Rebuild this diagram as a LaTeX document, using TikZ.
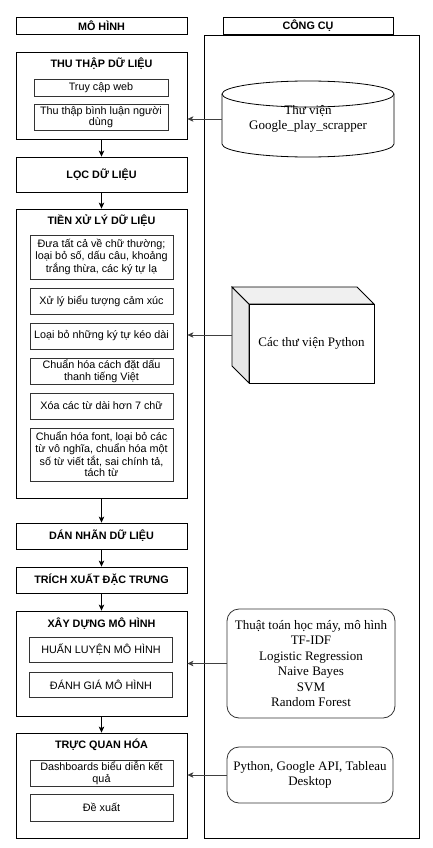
\documentclass[tikz,border=0pt]{standalone}
\usepackage{fontspec}
\setmainfont{Liberation Serif}
\setsansfont{Liberation Sans}
\usetikzlibrary{arrows.meta,positioning,calc}
\definecolor{lineGrey}{HTML}{333333}
\definecolor{sideGrey}{HTML}{E6E6E6}
\definecolor{topGrey}{HTML}{F0F0F0}

\begin{document}
\begin{tikzpicture}[
  x=1pt,y=-1pt,
  line width=0.8pt,
  sans/.style={font=\sffamily\fontsize{10.8}{11.6}\selectfont},
  header/.style={draw,sans,font=\sffamily\bfseries\fontsize{10.8}{11.6}\selectfont,
    minimum height=17pt,inner sep=0pt},
  group/.style={draw,fill=white,minimum width=171pt,inner sep=0pt},
  title/.style={sans,font=\sffamily\bfseries\fontsize{10.8}{11.6}\selectfont,inner sep=0pt},
  stepbox/.style={draw,fill=white,minimum width=171pt,inner sep=0pt,
    font=\sffamily\bfseries\fontsize{10.8}{11.6}\selectfont},
  subbox/.style={draw=lineGrey,fill=white,sans,align=center,minimum width=143pt,inner sep=0pt},
  tool/.style={draw=lineGrey,fill=white,rounded corners=12pt,align=center,inner sep=0pt,
    font=\rmfamily\fontsize{13}{15.4}\selectfont},
  flow/.style={-{Stealth[length=6pt,width=5.5pt,inset=1.5pt]},draw=black},
  feed/.style={-{Stealth[length=6pt,width=5.5pt,inset=1.5pt]},draw=black!75}
]
  \useasboundingbox (0,0) rectangle (433,848);

  % headers and tool frame
  \node[header,minimum width=171pt] (mohinh) at (101.5,26) {MÔ HÌNH};
  \draw (204,35) rectangle (419,838);
  \node[header,minimum width=170pt,fill=white] (congcu) at (308,26) {CÔNG CỤ};

  % left column: model steps
  \node[group,minimum height=87pt] (thuthap) at (101.5,95.5) {};
  \node[title] (thuthapT) at (101.5,64) {THU THẬP DỮ LIỆU};
  \node[subbox,minimum width=134pt,minimum height=17pt] (web) at (101,87.5) {Truy cập web};
  \node[subbox,minimum width=134pt,minimum height=26pt] (binhluan) at (101,117)
    {Thu thập bình luận người\\dùng};

  \node[stepbox,minimum height=35pt] (loc) at (101.5,174.5) {LỌC DỮ LIỆU};

  \node[group,minimum height=289pt] (tienxuly) at (101.5,353.5) {};
  \node[title] (tienxulyT) at (101.5,221) {TIỀN XỬ LÝ DỮ LIỆU};
  \node[subbox,minimum height=44pt] (p1) at (101.5,257)
    {Đưa tất cả về chữ thường;\\loại bỏ số, dấu câu, khoảng\\trắng thừa, các ký tự lạ};
  \node[subbox,minimum height=26pt] (p2) at (101.5,301) {Xử lý biểu tượng cảm xúc};
  \node[subbox,minimum height=26pt] (p3) at (101.5,336) {Loại bỏ những ký tự kéo dài};
  \node[subbox,minimum height=26pt] (p4) at (101.5,371)
    {Chuẩn hóa cách đặt dấu\\thanh tiếng Việt};
  \node[subbox,minimum height=26pt] (p5) at (101.5,406) {Xóa các từ dài hơn 7 chữ};
  \node[subbox,minimum height=53pt] (p6) at (101.5,454.5)
    {Chuẩn hóa font, loại bỏ các\\từ vô nghĩa, chuẩn hóa một\\số từ viết tắt, sai chính tả,\\tách từ};

  \node[stepbox,minimum height=26pt] (dannhan) at (101.5,536) {DÁN NHÃN DỮ LIỆU};
  \node[stepbox,minimum height=26pt] (trichxuat) at (101.5,580) {TRÍCH XUẤT ĐẶC TRƯNG};

  \node[group,minimum height=105pt] (xaydung) at (101.5,663.5) {};
  \node[title] (xaydungT) at (101.5,624) {XÂY DỰNG MÔ HÌNH};
  \node[subbox,minimum height=25pt] (huanluyen) at (101,649.5) {HUẤN LUYỆN MÔ HÌNH};
  \node[subbox,minimum height=25pt] (danhgia) at (101,685) {ĐÁNH GIÁ MÔ HÌNH};

  \node[group,minimum height=105pt] (trucquan) at (101.5,785.5) {};
  \node[title] (trucquanT) at (101.5,745) {TRỰC QUAN HÓA};
  \node[subbox,minimum height=26pt] (dash) at (101.5,773)
    {Dashboards biểu diễn kết\\quả};
  \node[subbox,minimum height=27pt] (dexuat) at (101.5,807.5) {Đề xuất};

  % right column: tools
  % cylinder
  \draw[fill=white] (222,94) -- (222,144) arc[start angle=180,end angle=360,x radius=86pt,y radius=13pt]
    -- (394,94);
  \draw[fill=white] (308,94) ellipse[x radius=86pt,y radius=13pt];
  \node[tool,draw=none,fill=none,minimum width=172pt,minimum height=76pt] (thuvien) at (308,119)
    {Thư viện\\Google\_play\_scrapper};

  % cube
  \draw[fill=sideGrey] (232,287) -- (249,304) -- (249,383) -- (232,366) -- cycle;
  \draw[fill=topGrey] (232,287) -- (357,287) -- (374,304) -- (249,304) -- cycle;
  \node[tool,rounded corners=0pt,draw=black,minimum width=125pt,minimum height=79pt]
    (python) at (311.5,343.5) {Các thư viện Python};
  \coordinate (cubeside) at (232,335);

  \node[tool,minimum width=168pt,minimum height=109pt] (thuattoan) at (311,663.5)
    {Thuật toán học máy, mô hình\\TF-IDF\\Logistic Regression\\Naive Bayes\\SVM\\Random Forest};
  \node[tool,minimum width=166pt,minimum height=56pt] (congcuviz) at (310,775)
    {Python, Google API, Tableau\\Desktop};

  % connectors
  \draw[flow] (thuthap) -- (loc);
  \draw[flow] (loc) -- (tienxuly);
  \draw[flow] (tienxuly) -- (dannhan);
  \draw[flow] (dannhan) -- (trichxuat);
  \draw[flow] (trichxuat) -- (xaydung);
  \draw[flow] (xaydung) -- (trucquan);

  \draw[feed] (thuvien.west) -- (thuvien.west -| thuthap.east);
  \draw[feed] (cubeside) -- (cubeside -| tienxuly.east);
  \draw[feed] (thuattoan.west) -- (thuattoan.west -| xaydung.east);
  \draw[feed] (congcuviz.west) -- (congcuviz.west -| trucquan.east);
\end{tikzpicture}
\end{document}
